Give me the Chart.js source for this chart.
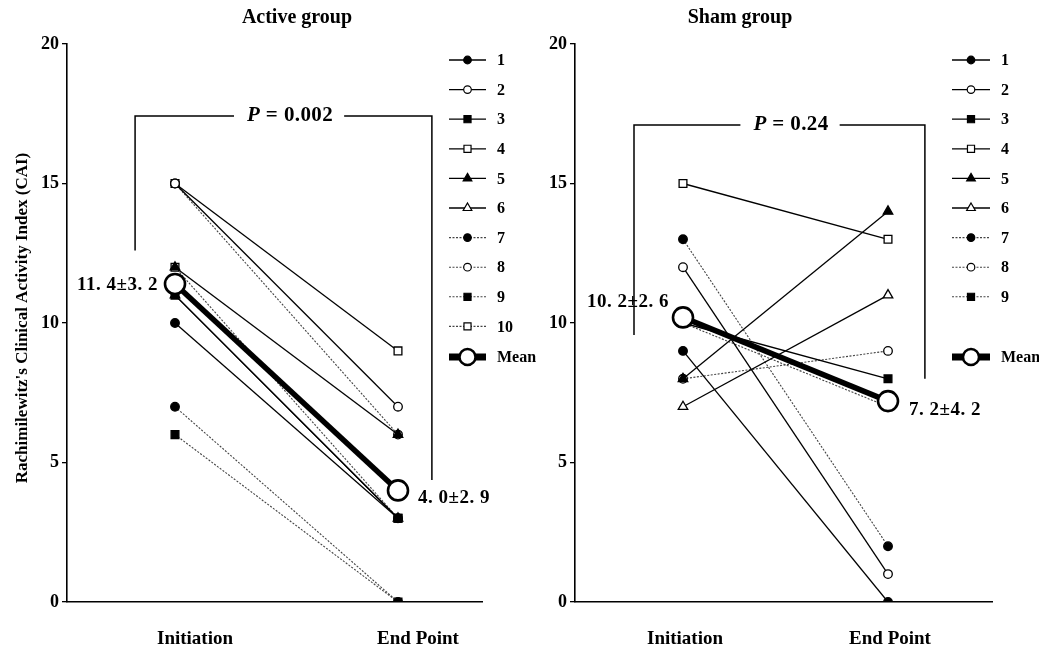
<!DOCTYPE html>
<html>
<head>
<meta charset="utf-8">
<script src="https://cdn.jsdelivr.net/npm/chart.js@4.4.1/dist/chart.umd.min.js"></script>
<style>
html,body{margin:0;padding:0;background:#fff;}
#wrap{position:relative;width:1039px;height:647px;overflow:hidden;background:#fff;}
#c1{position:absolute;left:0;top:0;}
#c2{position:absolute;left:540px;top:0;}
</style>
</head>
<body>
<div id="wrap">
<canvas id="c1" width="540" height="647"></canvas>
<canvas id="c2" width="499" height="647"></canvas>
</div>
<script>
// ---------------- DATA ----------------
const timeLabels = ['Initiation', 'End Point'];
const yTickValues = [0, 5, 10, 15, 20];

const activePatients   = ['1', '2', '3', '4', '5', '6', '7', '8', '9', '10'];
const activeInitiation = [10, 15, 11, 15, 12, 11, 7, 15, 6, 12];
const activeEndPoint   = [3, 7, 3, 9, 6, 3, 0, 6, 0, 3];
const activeMean = [11.4, 4.0];
const activeSD   = [3.2, 2.9];
const activeP    = '0.002';

const shamPatients   = ['1', '2', '3', '4', '5', '6', '7', '8', '9'];
const shamInitiation = [9, 12, 10, 15, 8, 7, 13, 8, 10];
const shamEndPoint   = [0, 1, 8, 13, 14, 11, 2, 9, 7];
const shamMean = [10.2, 7.2];
const shamSD   = [2.6, 4.2];
const shamP    = '0.24';

// ---------------- STYLES ----------------
const FONT = '"Liberation Serif", "Times New Roman", serif';
const markerShape  = ['circle', 'circle', 'rect', 'rect', 'triangle', 'triangle', 'circle', 'circle', 'rect', 'rect'];
const markerFilled = [true, false, true, false, true, false, true, false, true, false];

function buildDatasets(ids, init, end, mean) {
  const ds = ids.map((id, i) => {
    const dotted = i >= 6;
    const shape = markerShape[i];
    return {
      label: id,
      data: [{x: 0, y: init[i]}, {x: 1, y: end[i]}],
      borderColor: dotted ? '#444' : '#000',
      borderWidth: dotted ? 1.1 : 1.3,
      borderDash: dotted ? [2, 1.5] : [],
      pointStyle: shape,
      pointRadius: shape === 'circle' ? 4.3 : 5.5,
      pointBackgroundColor: markerFilled[i] ? '#000' : '#fff',
      pointBorderColor: '#000',
      pointBorderWidth: 1.3,
      order: 1
    };
  });
  ds.push({
    label: 'Mean',
    data: mean.map((v, k) => ({x: k, y: v})),
    borderColor: '#000',
    borderWidth: 5.5,
    borderDash: [],
    pointStyle: 'circle',
    pointRadius: 10,
    pointBackgroundColor: '#fff',
    pointBorderColor: '#000',
    pointBorderWidth: 2.6,
    order: 0
  });
  return ds;
}

function fmt(v) { return v.toFixed(1).replace('.', '. '); }

function drawMarker(ctx, shape, r, filled, x, y, bw) {
  ctx.save();
  ctx.fillStyle = filled ? '#000' : '#fff';
  ctx.strokeStyle = '#000';
  ctx.lineWidth = bw;
  ctx.setLineDash([]);
  ctx.beginPath();
  if (shape === 'circle') {
    ctx.arc(x, y, r, 0, Math.PI * 2);
  } else if (shape === 'rect') {
    const s = r / Math.SQRT2;
    ctx.rect(x - s, y - s, 2 * s, 2 * s);
  } else if (shape === 'triangle') {
    ctx.moveTo(x, y - r);
    ctx.lineTo(x + r * 0.866, y + r * 0.5);
    ctx.lineTo(x - r * 0.866, y + r * 0.5);
    ctx.closePath();
  }
  ctx.fill();
  ctx.stroke();
  ctx.restore();
}

// shift the y axis title slightly, like the reference
const yTitlePlugin = {
  id: 'yTitleShift',
  beforeDraw(chart) {
    const s = chart.scales.y;
    if (s && s.options.title.display && !s._wrappedTitle) {
      const orig = s.drawTitle.bind(s);
      s.drawTitle = function () {
        const c = this.ctx;
        c.save();
        c.translate(0, -5);
        orig();
        c.restore();
      };
      s._wrappedTitle = true;
    }
  }
};

const annotPlugin = {
  id: 'annot',
  afterDraw(chart, args, o) {
    const {ctx, scales: {x, y}} = chart;
    ctx.save();
    ctx.fillStyle = '#000';
    ctx.strokeStyle = '#000';
    // panel title
    ctx.font = 'bold 20px ' + FONT;
    ctx.textAlign = 'center';
    ctx.textBaseline = 'middle';
    ctx.fillText(o.title, x.getPixelForValue(o.titleX), o.titleY);

    // P bracket
    const b = o.bracket;
    const bl = x.getPixelForValue(b.x0), br = x.getPixelForValue(b.x1);
    const bt = y.getPixelForValue(b.top);
    const lb = y.getPixelForValue(b.leftBottom), rb = y.getPixelForValue(b.rightBottom);
    const pc = x.getPixelForValue(b.textX);
    ctx.letterSpacing = '0.4px';
    ctx.font = 'italic bold 21px ' + FONT;
    const pw = ctx.measureText('P').width;
    ctx.font = 'bold 21px ' + FONT;
    const rest = ' = ' + o.p;
    const rw = ctx.measureText(rest).width;
    const tw = pw + rw, tx = pc - tw / 2;
    ctx.textAlign = 'left';
    ctx.font = 'italic bold 21px ' + FONT;
    ctx.fillText('P', tx, bt);
    ctx.font = 'bold 21px ' + FONT;
    ctx.fillText(rest, tx + pw, bt);
    ctx.lineWidth = 1.5;
    ctx.beginPath();
    ctx.moveTo(bl, lb); ctx.lineTo(bl, bt); ctx.lineTo(tx - 13, bt);
    ctx.moveTo(tx + tw + 11, bt); ctx.lineTo(br, bt); ctx.lineTo(br, rb);
    ctx.stroke();

    // mean ± SD labels
    ctx.font = 'bold 19px ' + FONT;
    ctx.letterSpacing = '0.5px';
    o.meanLabels.forEach((m, k) => {
      ctx.textAlign = m.align;
      ctx.fillText(fmt(o.mean[k]) + '±' + fmt(o.sd[k]), x.getPixelForValue(k) + m.dx, y.getPixelForValue(o.mean[k]) + m.dy);
    });
    ctx.letterSpacing = '0px';

    // legend
    const L = o.legend;
    ctx.textAlign = 'left';
    ctx.font = 'bold 16px ' + FONT;
    chart.data.datasets.forEach((d, i) => {
      const isMean = d.label === 'Mean';
      const yy = isMean ? L.meanY : L.y0 + i * L.dy;
      const x0 = L.x, x1 = L.x + L.w, xc = (x0 + x1) / 2;
      ctx.save();
      ctx.strokeStyle = d.borderColor;
      ctx.lineWidth = isMean ? 7 : d.borderWidth;
      ctx.setLineDash(d.borderDash || []);
      ctx.beginPath(); ctx.moveTo(x0, yy); ctx.lineTo(x1, yy); ctx.stroke();
      ctx.restore();
      if (isMean) {
        drawMarker(ctx, 'circle', 8, false, xc, yy, 2.5);
      } else {
        drawMarker(ctx, d.pointStyle, d.pointRadius - 0.5, d.pointBackgroundColor === '#000', xc, yy, 1.2);
      }
      ctx.fillStyle = '#000';
      ctx.fillText(d.label, x1 + L.gap, yy + 1);
    });
    ctx.restore();
  }
};

function makeConfig(p) {
  return {
    type: 'line',
    data: { datasets: buildDatasets(p.ids, p.init, p.end, p.mean) },
    plugins: [yTitlePlugin, annotPlugin],
    options: {
      responsive: false,
      animation: false,
      events: [],
      layout: { padding: { top: 44, right: p.padRight, bottom: 0, left: 0 } },
      plugins: {
        legend: { display: false },
        tooltip: { enabled: false },
        title: { display: false },
        annot: p.annot
      },
      scales: {
        x: {
          type: 'linear',
          min: p.xMin, max: p.xMax,
          afterBuildTicks: s => { s.ticks = timeLabels.map((t, i) => ({value: i})); },
          afterFit: s => { s.height = 45; },
          ticks: {
            callback: v => timeLabels[v],
            font: { family: FONT, size: 19, weight: 'bold' },
            color: '#000',
            padding: 26,
            labelOffset: p.labelOffset,
            maxRotation: 0,
            autoSkip: false
          },
          grid: { display: false, drawTicks: false },
          border: { display: true, color: '#000', width: 1.6 }
        },
        y: {
          min: 0, max: 20,
          afterBuildTicks: s => { s.ticks = yTickValues.map(v => ({value: v})); },
          afterFit: s => { s.width = p.yWidth; },
          ticks: {
            font: { family: FONT, size: 18, weight: 'bold' },
            color: '#000',
            padding: 3
          },
          grid: { display: true, drawOnChartArea: false, drawTicks: true, tickLength: 5, color: '#000', lineWidth: 1.3 },
          border: { display: true, color: '#000', width: 1.6 },
          title: p.yTitle ? {
            display: true,
            text: "Rachimilewitz's Clinical Activity Index (CAI)",
            font: { family: FONT, size: 17, weight: 'bold' },
            color: '#000',
            padding: { top: 12, bottom: 0 }
          } : { display: false }
        }
      }
    }
  };
}

new Chart(document.getElementById('c1'), makeConfig({
  ids: activePatients, init: activeInitiation, end: activeEndPoint, mean: activeMean,
  xMin: -0.4843, xMax: 1.3767, padRight: 58, yWidth: 67, labelOffset: 20, yTitle: true,
  annot: {
    title: 'Active group', titleX: 0.547, titleY: 18,
    p: activeP, mean: activeMean, sd: activeSD,
    bracket: { x0: -0.179, x1: 1.152, top: 17.42, leftBottom: 12.6, rightBottom: 4.37, textX: 0.516 },
    meanLabels: [ { dx: -17, dy: 1, align: 'right' }, { dx: 20, dy: 8, align: 'left' } ],
    legend: { x: 449, w: 37, gap: 11, y0: 60, dy: 29.6, meanY: 357 }
  }
}));

new Chart(document.getElementById('c2'), makeConfig({
  ids: shamPatients, init: shamInitiation, end: shamEndPoint, mean: shamMean,
  xMin: -0.5268, xMax: 1.5073, padRight: 47, yWidth: 35, labelOffset: 2, yTitle: false,
  annot: {
    title: 'Sham group', titleX: 0.278, titleY: 18,
    p: shamP, mean: shamMean, sd: shamSD,
    bracket: { x0: -0.239, x1: 1.180, top: 17.1, leftBottom: 9.57, rightBottom: 8.0, textX: 0.527 },
    meanLabels: [ { dx: -14, dy: -15, align: 'right' }, { dx: 21, dy: 9, align: 'left' } ],
    legend: { x: 412, w: 38, gap: 11, y0: 60, dy: 29.6, meanY: 357 }
  }
}));
</script>
</body>
</html>
